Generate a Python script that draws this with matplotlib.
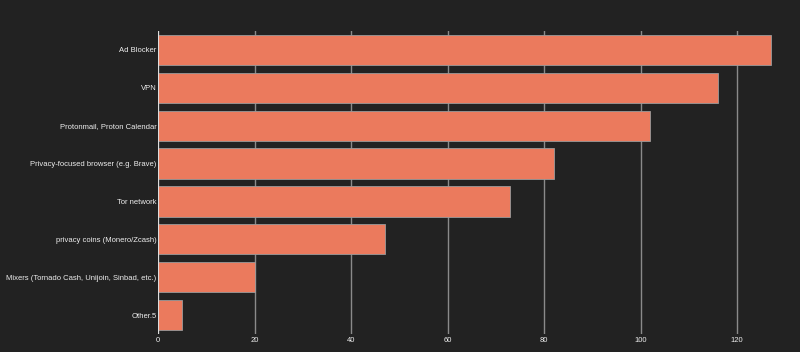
import matplotlib
matplotlib.use("Agg")
import matplotlib.pyplot as plt

categories = ["Ad Blocker", "VPN", "Protonmail, Proton Calendar",
              "Privacy-focused browser (e.g. Brave)", "Tor network",
              "privacy coins (Monero/Zcash)",
              "Mixers (Tornado Cash, Unijoin, Sinbad, etc.)", "Other.5"]
counts = [127, 116, 102, 82, 73, 47, 20, 5]
xticks = [0, 20, 40, 60, 80, 100, 120]

plt.rcParams["font.family"] = ["Liberation Sans", "DejaVu Sans"]

bg = "#222222"
fig = plt.figure(figsize=(8, 3.52), dpi=100, facecolor=bg)
ax = fig.add_axes([158/800, (352-334)/352, 1 - 158/800, (334-31)/352])
ax.set_facecolor(bg)

ypos = list(range(len(categories)))
ax.barh(ypos, counts, height=0.8, color="#EB7A5D", edgecolor="#9a9a9a",
        linewidth=0.6, zorder=3)
ax.set_ylim(len(categories) - 0.5, -0.5)
ax.set_xlim(0, 133)
ax.set_yticks(ypos)
ax.set_yticklabels(categories)
ax.set_xticks(xticks)
ax.set_xticklabels([str(t) for t in xticks])
ax.grid(axis="x", color="#8a8a8a", linewidth=1, zorder=0)
ax.axvline(0, color="#dddddd", linewidth=1.5, zorder=4)
for s in ax.spines.values():
    s.set_visible(False)
ax.tick_params(axis="both", length=0, colors="#eeeeee", labelsize=5.5, pad=2)
ax.tick_params(axis="y", pad=1)
ax.set_xlabel("count", color="#eeeeee", fontsize=6.5, labelpad=5)
fig.savefig("out.png", dpi=100, facecolor=bg)
